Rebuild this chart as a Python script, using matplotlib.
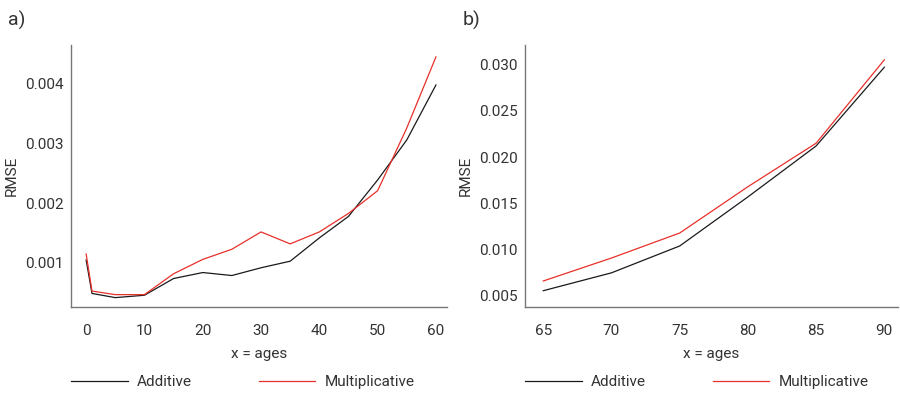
import matplotlib.pyplot as plt

plt.rcParams['font.family'] = ['Roboto', 'DejaVu Sans']
plt.rcParams['font.size'] = 11
plt.rcParams['text.color'] = '#333333'
plt.rcParams['axes.labelcolor'] = '#333333'
plt.rcParams['xtick.color'] = '#333333'
plt.rcParams['ytick.color'] = '#333333'

# a) ages 0-60
ages_a = [0, 1, 5, 10, 15, 20, 25, 30, 35, 40, 45, 50, 55, 60]
additive_a = [0.00105, 0.00049, 0.00042, 0.00046, 0.00074, 0.00084, 0.00079,
              0.00092, 0.00103, 0.00142, 0.00178, 0.00239, 0.00306, 0.00398]
multiplicative_a = [0.00115, 0.00053, 0.00047, 0.00047, 0.00082, 0.00106, 0.00123,
                    0.00152, 0.00132, 0.00152, 0.00183, 0.00221, 0.00326, 0.00445]

# b) ages 65-90
ages_b = [65, 70, 75, 80, 85, 90]
additive_b = [0.00557, 0.0075, 0.0104, 0.0157, 0.0212, 0.0297]
multiplicative_b = [0.00662, 0.0091, 0.0118, 0.0168, 0.0215, 0.0305]

fig = plt.figure(figsize=(9, 3.93), dpi=100)
ax1 = fig.add_axes([71/900, 1 - 307/393, (447-71)/900, (307-45)/393])
ax2 = fig.add_axes([525/900, 1 - 307/393, (898-525)/900, (307-45)/393])

panels = [
    (ax1, ages_a, additive_a, multiplicative_a, (-2.6, 61.9), (0.000263, 0.00465),
     [0, 10, 20, 30, 40, 50, 60], [0.001, 0.002, 0.003, 0.004]),
    (ax2, ages_b, additive_b, multiplicative_b, (63.66, 91.0), (0.00381, 0.0321),
     [65, 70, 75, 80, 85, 90], [0.005, 0.010, 0.015, 0.020, 0.025, 0.030]),
]

for ax, x, add, mult, xl, yl, xt, yt in panels:
    ax.plot(x, add, color='#1a1a1a', lw=0.9, label='Additive')
    ax.plot(x, mult, color='#e8302a', lw=0.9, label='Multiplicative')
    ax.set_xlim(*xl)
    ax.set_ylim(*yl)
    ax.set_xticks(xt)
    ax.set_yticks(yt)
    ax.set_yticklabels(['%.3f' % v for v in yt])
    ax.tick_params(axis='x', length=0, pad=12)
    ax.tick_params(axis='y', length=0, pad=5)
    for s in ['top', 'right']:
        ax.spines[s].set_visible(False)
    for s in ['left', 'bottom']:
        ax.spines[s].set_color('#777777')
        ax.spines[s].set_linewidth(1.0)
    ax.set_xlabel('x = ages', labelpad=7)
    ax.set_ylabel('RMSE', labelpad=5)
    ax.legend(loc='center left', bbox_to_anchor=(0, (307 - 382) / 262), ncol=2,
              frameon=False, handlelength=3.7, handletextpad=0.6,
              columnspacing=4.4, borderaxespad=0, borderpad=0)

fig.text(8/900, 1 - 20/393, 'a)', fontsize=14, va='center', ha='left')
fig.text(463/900, 1 - 20/393, 'b)', fontsize=14, va='center', ha='left')

fig.savefig('out.png', dpi=100)
